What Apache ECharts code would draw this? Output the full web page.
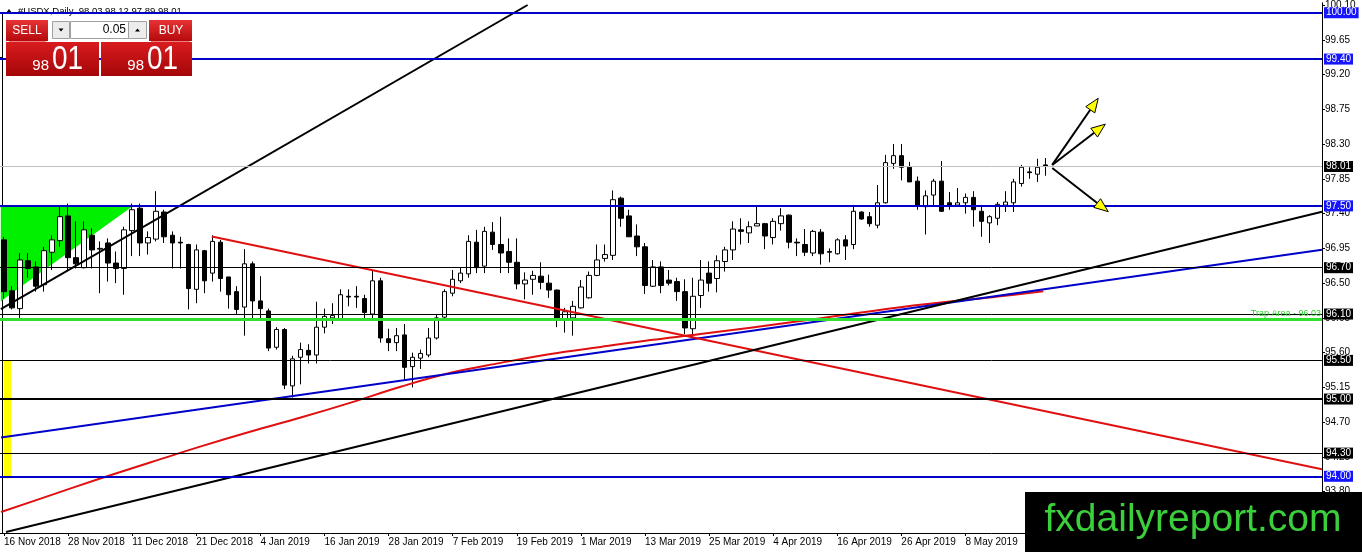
<!DOCTYPE html>
<html><head><meta charset="utf-8">
<script src="https://cdn.jsdelivr.net/npm/echarts@6/dist/echarts.min.js"></script>
<style>html,body{margin:0;padding:0;background:#fff}#c{width:1362px;height:552px}</style>
</head><body><div id="c"></div><script>
// ---------- data ----------
const dateTicks = ['16 Nov 2018','28 Nov 2018','11 Dec 2018','21 Dec 2018','4 Jan 2019','16 Jan 2019','28 Jan 2019','7 Feb 2019','19 Feb 2019','1 Mar 2019','13 Mar 2019','25 Mar 2019','4 Apr 2019','16 Apr 2019','26 Apr 2019','8 May 2019'];
const barsPerTick = 8;
const slotCount = 165;
const opens = [97.06,96.40,96.17,96.79,96.71,96.48,96.90,97.05,97.37,96.83,
96.70,97.12,96.94,97.02,96.76,96.69,97.18,97.47,97.02,97.07,
97.42,97.12,97.03,97.00,96.42,96.92,96.63,97.03,96.58,96.39,
96.19,96.75,96.27,96.14,95.67,95.90,95.17,95.54,95.63,95.57,
95.93,96.05,96.04,96.33,96.33,96.30,96.10,96.53,95.78,95.73,
95.83,95.42,95.53,95.57,95.79,96.06,96.37,96.53,96.62,97.03,
96.72,97.16,97.00,96.91,96.77,96.49,96.55,96.59,96.50,96.41,
96.04,96.05,96.18,96.31,96.60,96.82,96.86,97.60,97.37,97.11,
96.97,96.46,96.71,96.54,96.52,96.39,95.91,96.34,96.63,96.56,
96.78,96.93,97.19,97.15,97.24,97.27,97.09,97.27,97.38,97.03,
97.00,96.89,97.16,96.91,96.88,97.06,97.00,97.42,97.36,97.25,
97.54,98.05,98.15,98.00,97.82,97.49,97.64,97.82,97.54,97.51,
97.54,97.61,97.43,97.28,97.34,97.51,97.54,97.79,97.94,97.91,
98.03];
const highs = [97.10,96.46,96.89,96.89,96.78,96.97,97.12,97.49,97.53,97.30,
97.30,97.21,97.04,97.08,96.91,97.23,97.53,97.53,97.17,97.69,
97.45,97.17,97.10,97.01,97.00,96.93,97.12,97.06,96.58,96.46,
96.94,96.78,96.59,96.17,95.93,95.92,95.56,95.73,95.71,96.26,
96.17,96.24,96.42,96.42,96.46,96.35,96.67,96.57,95.91,95.92,
95.97,95.60,95.64,95.92,96.10,96.42,96.67,96.70,97.12,97.19,
97.23,97.29,97.36,97.08,97.08,96.64,96.66,96.77,96.61,96.42,
96.18,96.27,96.54,96.65,97.00,97.00,97.70,97.62,97.45,97.26,
97.02,96.80,96.78,96.67,96.57,96.55,96.57,96.80,96.78,96.86,
96.97,97.30,97.34,97.30,97.51,97.28,97.34,97.47,97.39,97.08,
97.20,97.19,97.20,96.95,97.08,97.12,97.49,97.43,97.42,97.77,
98.16,98.30,98.30,98.07,97.88,97.70,97.85,98.08,97.68,97.73,
97.66,97.69,97.49,97.38,97.55,97.69,97.85,98.03,98.00,98.11,
98.12];
const lows = [96.30,96.16,96.05,96.57,96.39,96.39,96.67,96.97,96.67,96.69,
96.69,96.69,96.37,96.52,96.50,96.35,96.85,96.85,96.87,97.04,
97.02,96.69,96.69,96.16,96.24,96.37,96.52,96.39,96.17,96.09,
95.82,96.04,96.03,95.62,95.64,95.13,95.02,95.19,95.46,95.46,
95.85,95.97,96.01,96.20,96.18,96.04,96.04,95.73,95.62,95.62,
95.24,95.15,95.39,95.54,95.77,96.03,96.33,96.50,96.57,96.63,
96.63,96.93,96.63,96.63,96.42,96.29,96.35,96.42,96.31,95.93,
95.86,95.82,96.17,96.30,96.59,96.78,96.80,97.23,97.10,96.85,
96.36,96.45,96.37,96.47,96.27,95.84,95.79,96.18,96.39,96.38,
96.65,96.80,97.00,97.02,97.24,96.94,97.00,97.18,96.95,96.85,
96.85,96.85,96.74,96.77,96.87,96.80,96.94,97.32,97.23,97.21,
97.53,97.98,97.83,97.81,97.45,97.13,97.49,97.42,97.45,97.49,
97.40,97.23,97.10,97.02,97.25,97.42,97.42,97.75,97.85,97.81,
97.89];
const closes = [96.39,96.18,96.80,96.69,96.46,96.92,97.06,97.36,96.83,96.75,
97.19,96.93,96.95,96.76,96.69,97.19,97.45,97.02,97.09,97.43,
97.10,97.02,97.02,96.43,96.93,96.53,97.04,96.56,96.35,96.16,
96.75,96.27,96.17,95.66,95.90,95.18,95.52,95.64,95.57,95.93,
96.07,96.08,96.35,96.32,96.32,96.12,96.53,95.79,95.73,95.82,
95.41,95.54,95.59,95.79,96.05,96.39,96.55,96.63,97.04,96.70,
97.17,97.00,96.89,96.77,96.49,96.54,96.60,96.51,96.41,96.04,
96.13,96.20,96.45,96.60,96.80,96.87,97.58,97.34,97.10,96.97,
96.47,96.71,96.47,96.50,96.39,95.92,96.33,96.54,96.50,96.79,
96.93,97.20,97.17,97.23,97.27,97.11,97.30,97.37,97.03,97.02,
96.90,97.17,96.88,96.90,97.06,96.98,97.43,97.33,97.27,97.54,
98.06,98.15,98.00,97.81,97.50,97.63,97.82,97.43,97.50,97.54,
97.61,97.45,97.30,97.36,97.52,97.55,97.81,98.00,97.93,98.00,
98.01];
const yTicks = [100.10,99.65,99.20,98.75,98.30,97.85,97.40,96.95,96.50,96.05,95.60,95.15,94.70,94.25,93.80];
const yMin = 93.266, yMax = 100.129;
const levelValues = [100.00, 99.40, 97.50, 96.70, 96.10, 96.03, 95.50, 95.00, 94.30, 94.00];
const currentPrice = 98.01;
const trapLabel = 'Trap Area - 96.03';
const title = '#USDX,Daily  98.03 98.12 97.89 98.01';
// trend objects: [bar index, price]
const steepLine = [[-0.4, 96.165], [65.35, 100.10]];
const longLine = [[0.25, 93.279], [164.5, 97.425]];
const blueLine = [[-0.37, 94.502], [164.5, 96.932]];
const redDownLine = [[25.94, 97.103], [164.5, 94.090]];
const redCurve = [[-0.37,93.537],[5.86,93.756],[12.10,93.974],[18.33,94.181],[24.57,94.387],[30.81,94.580],[37.04,94.760],[43.28,94.953],[49.51,95.159],[55.75,95.339],[61.99,95.468],[68.22,95.584],[74.46,95.674],[80.69,95.764],[86.93,95.841],[99.40,96.009],[111.87,96.189],[124.35,96.330],[129.71,96.395]];
const greenTriangle = [[-0.4, 97.50], [16.09, 97.50], [-0.4, 96.266]];
const yellowBox = [[0, 95.494], [0.87, 93.974]];
const arrows = [[130.83, 98.03, 136.57, 98.893], [130.83, 98.03, 137.45, 98.558], [130.83, 97.99, 137.82, 97.425]];
const sellBid = ['98', '01'], buyAsk = ['98', '01'], lotSize = '0.05';
const watermark = 'fxdailyreport.com';

// ---------- styles ----------
const FONT = '"Liberation Sans", Arial, sans-serif';
const BLUE = '#0000c8', BLUEBOX = '#1414ff';
const levelStyles = [
  {c: BLUE, w: 2, box: BLUEBOX},
  {c: BLUE, w: 2, box: BLUEBOX},
  {c: BLUE, w: 2, box: BLUEBOX},
  {c: '#000', w: 1, box: '#000'},
  {c: '#000', w: 1, box: '#000'},
  {c: '#2fe02f', w: 3, box: null, trap: true},
  {c: '#000', w: 1, box: '#000'},
  {c: '#000', w: 2, box: '#000'},
  {c: '#000', w: 1, box: '#000'},
  {c: BLUE, w: 2, box: BLUEBOX}
];

const categories = [];
for (let i = 0; i < slotCount; i++) categories.push('b' + i);
const candleData = opens.map((o, i) => [o, closes[i], lows[i], highs[i]]);
const isTick = (i) => i % barsPerTick === 0 && (i / barsPerTick) < dateTicks.length;

function boxLabel(text, bg) {
  return {show: true, position: 'end', distance: 2, formatter: text, color: '#fff', backgroundColor: bg,
    fontFamily: FONT, fontSize: 10, padding: [1, 2, 0, 2], lineHeight: 10};
}
const markData = levelValues.map((v, k) => {
  const s = levelStyles[k];
  const d = {yAxis: v, lineStyle: {color: s.c, width: s.w, type: 'solid'}};
  if (s.trap) d.label = {show: true, position: 'insideEndTop', formatter: trapLabel, color: '#2fd02f', fontSize: 9, fontFamily: FONT, distance: 1};
  else d.label = boxLabel(v.toFixed(2), s.box);
  return d;
});
markData.splice(2, 0, {yAxis: currentPrice, lineStyle: {color: '#c0c0c0', width: 1, type: 'solid'}, label: boxLabel(currentPrice.toFixed(2), '#000')});

function lineSeries(pts, color, z, smooth) {
  return {type: 'line', xAxisIndex: 1, yAxisIndex: 0, data: pts, symbol: 'none', smooth: smooth || false, silent: true,
    lineStyle: {color: color, width: 2}, z: z, clip: true};
}

const chart = echarts.init(document.getElementById('c'), null, {renderer: 'canvas'});
const redGrad = {type: 'linear', x: 0, y: 0, x2: 0, y2: 1, colorStops: [{offset: 0, color: '#e63234'}, {offset: 1, color: '#b50a0c'}]};
const redGrad2 = {type: 'linear', x: 0, y: 0, x2: 0, y2: 1, colorStops: [{offset: 0, color: '#d81c1f'}, {offset: 1, color: '#a50608'}]};
const option = {
  animation: false,
  backgroundColor: '#fff',
  grid: {left: -1, right: 40, top: 0, bottom: 19, containLabel: false},
  xAxis: [{
    type: 'category', data: categories, boundaryGap: true,
    axisLine: {show: true, onZero: false, lineStyle: {color: '#000', width: 1}},
    axisTick: {show: true, alignWithLabel: true, interval: (i) => isTick(i), length: 3, lineStyle: {color: '#000'}},
    axisLabel: {interval: (i) => isTick(i), formatter: (v, i) => isTick(i) ? dateTicks[i / barsPerTick] : '',
      align: 'left', margin: 4, fontSize: 10, fontFamily: FONT, color: '#000'},
    splitLine: {show: false}
  }, {
    type: 'value', min: -0.5, max: slotCount - 0.5, show: false
  }],
  yAxis: [{
    type: 'value', position: 'right', min: yMin, max: yMax, scale: true,
    axisLine: {show: true, onZero: false, lineStyle: {color: '#000', width: 1}},
    axisTick: {show: true, customValues: yTicks, length: 3, lineStyle: {color: '#000'}},
    axisLabel: {customValues: yTicks, formatter: (v) => v.toFixed(2), margin: 3, fontSize: 10, fontFamily: FONT, color: '#000'},
    splitLine: {show: false}
  }],
  graphic: [
    {type: 'line', shape: {x1: 2.5, y1: 13, x2: 2.5, y2: 533}, style: {stroke: '#000', lineWidth: 1}, z: 0, silent: true},
    {type: 'line', shape: {x1: 0, y1: 57.5, x2: 2, y2: 57.5}, style: {stroke: '#000', lineWidth: 1}, z: 0, silent: true},
    {type: 'polygon', shape: {points: [[6, 13], [12, 13], [9, 9]]}, style: {fill: '#000'}, z: 1},
    {type: 'text', x: 18, y: 11, style: {text: title, fill: '#000', font: '9.5px ' + FONT, verticalAlign: 'middle'}, z: 1},
    // one-click panel
    {type: 'rect', shape: {x: 6, y: 20, width: 42, height: 21}, style: {fill: redGrad}, z: 100},
    {type: 'text', x: 27, y: 31, style: {text: 'SELL', fill: '#fff', font: '12px ' + FONT, align: 'center', verticalAlign: 'middle'}, z: 101},
    {type: 'rect', shape: {x: 149, y: 20, width: 43, height: 21}, style: {fill: redGrad}, z: 100},
    {type: 'text', x: 171, y: 31, style: {text: 'BUY', fill: '#fff', font: '12px ' + FONT, align: 'center', verticalAlign: 'middle'}, z: 101},
    {type: 'line', shape: {x1: 9, y1: 41.5, x2: 46, y2: 41.5}, style: {stroke: '#f08080', lineWidth: 1}, z: 102},
    {type: 'line', shape: {x1: 151, y1: 41.5, x2: 190, y2: 41.5}, style: {stroke: '#f08080', lineWidth: 1}, z: 102},
    {type: 'rect', shape: {x: 52.5, y: 21.5, width: 17, height: 17}, style: {fill: '#ececec', stroke: '#a0a0a0', lineWidth: 1}, z: 100},
    {type: 'polygon', shape: {points: [[58.5, 28.5], [63.5, 28.5], [61, 31.5]]}, style: {fill: '#000'}, z: 101},
    {type: 'rect', shape: {x: 70.5, y: 21.5, width: 58, height: 17}, style: {fill: '#fff', stroke: '#a0a0a0', lineWidth: 1}, z: 100},
    {type: 'text', x: 126, y: 30, style: {text: lotSize, fill: '#000', font: '12px ' + FONT, align: 'right', verticalAlign: 'middle'}, z: 101},
    {type: 'rect', shape: {x: 128.5, y: 21.5, width: 18, height: 17}, style: {fill: '#ececec', stroke: '#a0a0a0', lineWidth: 1}, z: 100},
    {type: 'polygon', shape: {points: [[135, 31.5], [140, 31.5], [137.5, 28.5]]}, style: {fill: '#000'}, z: 101},
    {type: 'rect', shape: {x: 6, y: 42, width: 93, height: 34}, style: {fill: redGrad2}, z: 100},
    {type: 'rect', shape: {x: 101, y: 42, width: 91, height: 34}, style: {fill: redGrad2}, z: 100},
    {type: 'text', x: 49, y: 66, style: {text: sellBid[0], fill: '#fff', font: '15px ' + FONT, align: 'right', verticalAlign: 'middle'}, z: 101},
    {type: 'text', x: 52, y: 60, scaleX: 0.82, style: {text: sellBid[1], fill: '#fff', font: '34px ' + FONT, align: 'left', verticalAlign: 'middle'}, z: 101},
    {type: 'text', x: 144, y: 66, style: {text: buyAsk[0], fill: '#fff', font: '15px ' + FONT, align: 'right', verticalAlign: 'middle'}, z: 101},
    {type: 'text', x: 147, y: 60, scaleX: 0.82, style: {text: buyAsk[1], fill: '#fff', font: '34px ' + FONT, align: 'left', verticalAlign: 'middle'}, z: 101},
    // watermark
    {type: 'rect', shape: {x: 1025, y: 492, width: 337, height: 60}, style: {fill: '#000'}, z: 200},
    {type: 'text', x: 1193, y: 520, style: {text: watermark, fill: '#3ccf3c', font: '39px ' + FONT, align: 'center', verticalAlign: 'middle'}, z: 201}
  ],
  series: [
    {type: 'custom', xAxisIndex: 1, yAxisIndex: 0, z: 1, silent: true, data: [[0]],
      renderItem: (p, api) => ({type: 'polygon', shape: {points: greenTriangle.map(pt => api.coord(pt))}, style: {fill: '#00f000'}})},
    {type: 'custom', xAxisIndex: 1, yAxisIndex: 0, z: 1, silent: true, data: [[0]],
      renderItem: (p, api) => {
        const a = api.coord(yellowBox[0]), b = api.coord(yellowBox[1]);
        return {type: 'rect', shape: {x: a[0], y: a[1], width: b[0] - a[0], height: b[1] - a[1]}, style: {fill: '#ffff00'}};
      }},
    {type: 'candlestick', xAxisIndex: 0, yAxisIndex: 0, data: candleData, barWidth: 5, z: 2, silent: true,
      itemStyle: {color: '#fff', color0: '#000', borderColor: '#000', borderColor0: '#000', borderWidth: 1}},
    {type: 'line', xAxisIndex: 1, yAxisIndex: 0, data: [[-5, 96]], symbol: 'none', z: 3, silent: true,
      lineStyle: {width: 0}, markLine: {silent: true, symbol: ['none', 'none'], animation: false, data: markData}},
    lineSeries(redCurve, '#e01010', 4, 0.4),
    lineSeries(blueLine, '#0000c8', 4),
    lineSeries(redDownLine, '#e01010', 4),
    lineSeries(steepLine, '#000', 4),
    lineSeries(longLine, '#000', 4),
    {type: 'custom', xAxisIndex: 1, yAxisIndex: 0, z: 6, silent: true, data: arrows,
      renderItem: (p, api) => {
        const s = api.coord([api.value(0), api.value(1)]);
        const e = api.coord([api.value(2), api.value(3)]);
        const dx = e[0] - s[0], dy = e[1] - s[1], L = Math.hypot(dx, dy), ux = dx / L, uy = dy / L;
        const hl = 14, hw = 5.5, bx = e[0] - ux * hl, by = e[1] - uy * hl;
        return {type: 'group', children: [
          {type: 'line', shape: {x1: s[0], y1: s[1], x2: bx, y2: by}, style: {stroke: '#000', lineWidth: 2}},
          {type: 'polygon', shape: {points: [[e[0], e[1]], [bx - uy * hw, by + ux * hw], [bx + uy * hw, by - ux * hw]]},
            style: {fill: '#ffff00', stroke: '#000', lineWidth: 1}}
        ]};
      }}
  ]
};
chart.setOption(option);
</script></body></html>
